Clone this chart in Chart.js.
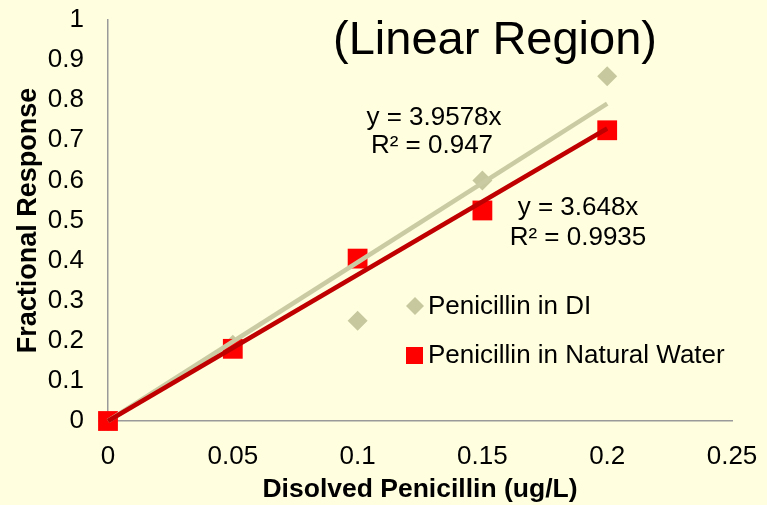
<!DOCTYPE html>
<html>
<head>
<meta charset="utf-8">
<script src="https://cdn.jsdelivr.net/npm/chart.js@4"></script>
<style>
  html, body { margin: 0; padding: 0; background: #FFFFE0; }
  #wrap { width: 767px; height: 505px; }
</style>
</head>
<body>
<div id="wrap"><canvas id="chart" width="767" height="505"></canvas></div>
<script>
const concentration = [0, 0.05, 0.1, 0.15, 0.2];
const diResponse = [0, 0.19, 0.25, 0.6, 0.86];
const naturalResponse = [0, 0.18, 0.405, 0.525, 0.725];
const seriesNames = ['Penicillin in DI', 'Penicillin in Natural Water'];
const slopes = [3.9578, 3.648];
const rSquared = [0.947, 0.9935];
const xTicks = [0, 0.05, 0.1, 0.15, 0.2, 0.25];
const yTicks = [0, 0.1, 0.2, 0.3, 0.4, 0.5, 0.6, 0.7, 0.8, 0.9, 1];

const FONT = "'Liberation Sans', Arial, sans-serif";
const tan = '#C8C89E';
const tanLine = '#CBCBA3';
const red = '#FF0000';
const darkRed = '#C00000';

const points = (xs, ys) => xs.map((x, i) => ({ x: x, y: ys[i] }));
// trendline through the origin, out to the last measured concentration
const lastX = concentration[concentration.length - 1];
const trend = (m) => [{ x: 0, y: 0 }, { x: lastX, y: m * lastX }];

const fmt = v => String(+v.toFixed(2));

const overlay = {
  id: 'overlay',
  afterDraw(chart) {
    const ctx = chart.ctx;
    ctx.save();
    ctx.fillStyle = '#000';
    ctx.textAlign = 'center';
    ctx.textBaseline = 'alphabetic';
    ctx.font = '47px ' + FONT;
    ctx.fillText('(Linear Region)', 495, 54);

    ctx.font = '26px ' + FONT;
    ctx.fillText('y = ' + slopes[0] + 'x', 434, 125);
    ctx.fillText('R² = ' + rSquared[0], 432, 153);
    ctx.fillText('y = ' + slopes[1] + 'x', 578, 215);
    ctx.fillText('R² = ' + rSquared[1], 578, 245);

    // legend
    ctx.textAlign = 'left';
    ctx.textBaseline = 'middle';
    ctx.fillStyle = tan;
    ctx.beginPath();
    ctx.moveTo(415, 297); ctx.lineTo(424, 306); ctx.lineTo(415, 315); ctx.lineTo(406, 306);
    ctx.closePath();
    ctx.fill();
    ctx.fillStyle = red;
    ctx.fillRect(406, 347, 17, 17);
    ctx.fillStyle = '#000';
    ctx.fillText(seriesNames[0], 428, 307);
    ctx.fillText(seriesNames[1], 428, 356);
    ctx.restore();
  }
};

new Chart(document.getElementById('chart'), {
  type: 'scatter',
  data: {
    datasets: [
      {
        type: 'line',
        data: trend(slopes[1]),
        borderColor: darkRed,
        borderWidth: 4.6,
        pointRadius: 0,
        clip: false,
        order: 1
      },
      {
        type: 'line',
        data: trend(slopes[0]),
        borderColor: tanLine,
        borderWidth: 4.6,
        pointRadius: 0,
        clip: false,
        order: 2
      },
      {
        label: seriesNames[0],
        data: points(concentration, diResponse),
        pointStyle: 'rectRot',
        pointRadius: 10,
        backgroundColor: tan,
        borderWidth: 0,
        clip: false,
        order: 4
      },
      {
        label: seriesNames[1],
        data: points(concentration, naturalResponse),
        pointStyle: 'rect',
        pointRadius: 14,
        backgroundColor: red,
        borderWidth: 0,
        clip: false,
        order: 3
      }
    ]
  },
  options: {
    responsive: false,
    animation: false,
    events: [],
    layout: { padding: { top: 20, right: 35, left: 0, bottom: 0 } },
    plugins: { legend: { display: false }, tooltip: { enabled: false } },
    scales: {
      x: {
        type: 'linear',
        min: 0, max: 0.25,
        afterBuildTicks: s => { s.ticks = xTicks.map(v => ({ value: v })); },
        afterFit: s => { s.height = 84; s.paddingLeft = 0; s.paddingRight = 0; },
        grid: { display: false, drawTicks: false },
        border: { color: '#9A9A9A', width: 1.5 },
        ticks: { color: '#000', padding: 20, font: { family: FONT, size: 26 }, callback: fmt, maxRotation: 0 },
        title: { display: true, text: 'Disolved Penicillin (ug/L)', color: '#000', font: { family: FONT, size: 26.5, weight: 'bold' }, padding: { top: 0, bottom: -1 } }
      },
      y: {
        type: 'linear',
        min: 0, max: 1,
        afterBuildTicks: s => { s.ticks = yTicks.map(v => ({ value: v })); },
        afterFit: s => { s.width = 108; s.paddingTop = 0; s.paddingBottom = 0; },
        grid: { display: false, drawTicks: false },
        border: { color: '#9A9A9A', width: 1.5 },
        ticks: { color: '#000', padding: 24, font: { family: FONT, size: 26 }, callback: fmt },
        title: { display: true, text: 'Fractional Response', color: '#000', font: { family: FONT, size: 27, weight: 'bold' }, padding: { top: 12, bottom: 0 } }
      }
    }
  },
  plugins: [overlay]
});
</script>
</body>
</html>
